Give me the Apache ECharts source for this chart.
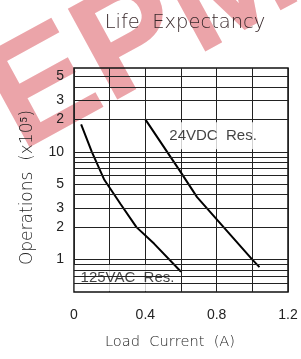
<!DOCTYPE html>
<html>
<head>
<meta charset="utf-8">
<script src="https://cdn.jsdelivr.net/npm/echarts@6/dist/echarts.min.js"></script>
<style>
  html, body { margin: 0; padding: 0; background: #fff; }
  #chart { width: 301px; height: 359px; }
</style>
</head>
<body>
<div id="chart"></div>
<script>
// curves, [load current (A), operations x10^5]
const dc24 = [[0.4, 20], [0.59, 6.8], [0.69, 3.8], [1.0, 1.0], [1.04, 0.85]];
const ac125 = [[0.04, 18], [0.1, 10], [0.17, 5.5], [0.26, 3.3], [0.35, 2.0], [0.45, 1.4], [0.6, 0.77]];

// log paper lines and the labels shown on the left
const gridValues = [0.6, 0.7, 0.8, 0.9, 1, 2, 3, 4, 5, 6, 7, 8, 9, 10, 20, 30, 40, 50];
const yTickValues = [50, 30, 20, 10, 5, 3, 2, 1];
const yTickLabels = ["5", "3", "2", "10", "5", "3", "2", "1"];
const xTickLabels = ["0", "0.4", "0.8", "1.2"];

const chart = echarts.init(document.getElementById("chart"));

const lineData = gridValues.map((v) => {
  const i = yTickValues.indexOf(v);
  return {
    yAxis: v,
    label: i >= 0 ? { show: true, formatter: yTickLabels[i] } : { show: false },
  };
});

const thinFont = "DejaVu Sans";

const option = {
  animation: false,
  graphic: [
    {
      // faint watermark behind the drawing
      type: "text",
      z: -10,
      silent: true,
      x: -35,
      y: 50,
      rotation: 0.5,
      style: {
        text: "EPM",
        fill: "#eba4a9",
        font: "bold 150px 'Liberation Sans'",
      },
    },
  ],
  title: {
    text: "Life  Expectancy",
    left: 180,
    top: 8,
    textAlign: "center",
    textStyle: {
      fontFamily: thinFont,
      fontWeight: 200,
      fontSize: 19.5,
      color: "#3a2a2c",
    },
  },
  grid: {
    left: 74,
    right: 13,
    top: 68,
    bottom: 67,
    show: true,
    borderColor: "#111",
    borderWidth: 1.5,
    backgroundColor: "transparent",
  },
  xAxis: {
    type: "value",
    min: 0,
    max: 1.2,
    interval: 0.2,
    name: "Load  Current  (A)",
    nameLocation: "middle",
    nameGap: 43,
    nameTextStyle: {
      fontFamily: thinFont,
      fontWeight: 200,
      fontSize: 14.6,
      color: "#222",
      padding: [0, 22, 0, 0],
    },
    axisLine: { show: false },
    axisTick: { show: false },
    axisLabel: {
      margin: 16,
      fontFamily: "Liberation Sans",
      fontSize: 14,
      color: "#222",
      formatter: (v) => {
        const s = String(Math.round(v * 10) / 10);
        return xTickLabels.indexOf(s) >= 0 ? s : "";
      },
    },
    splitLine: { show: true, lineStyle: { color: "#222", width: 1 } },
  },
  yAxis: {
    type: "log",
    logBase: 10,
    min: 0.5,
    max: 60,
    name: "Operations  (x10\u2075)",
    nameLocation: "middle",
    nameGap: 38,
    nameTextStyle: {
      fontFamily: thinFont,
      fontWeight: 200,
      fontSize: 17,
      color: "#222",
      padding: [0, 15, 0, 0],
    },
    axisLine: { show: false },
    axisTick: { show: false },
    axisLabel: { show: false },
    splitLine: { show: false },
  },
  series: [
    {
      name: "grid",
      type: "line",
      data: [],
      z: 1,
      markLine: {
        silent: true,
        symbol: "none",
        animation: false,
        lineStyle: { type: "solid", color: "#222", width: 1 },
        label: {
          position: "start",
          distance: 10,
          fontFamily: "Liberation Sans",
          fontSize: 14,
          color: "#222",
        },
        emphasis: { disabled: true },
        data: lineData,
      },
    },
    {
      name: "labels",
      type: "scatter",
      z: 3,
      symbolSize: 0,
      silent: true,
      data: [
        { value: [0.78, 14.1], name: "24VDC  Res." },
        { value: [0.3, 0.68], name: "125VAC  Res." },
      ],
      label: {
        show: true,
        position: "inside",
        formatter: (p) => p.name,
        fontFamily: "Liberation Sans",
        fontSize: 15,
        color: "#111",
        backgroundColor: "#fff",
        padding: [6, 6],
      },
    },
    {
      name: "24VDC Res.",
      type: "line",
      z: 4,
      data: dc24,
      showSymbol: false,
      lineStyle: { color: "#000", width: 2 },
    },
    {
      name: "125VAC Res.",
      type: "line",
      z: 4,
      data: ac125,
      showSymbol: false,
      lineStyle: { color: "#000", width: 2 },
    },
  ],
};

chart.setOption(option);
</script>
</body>
</html>
